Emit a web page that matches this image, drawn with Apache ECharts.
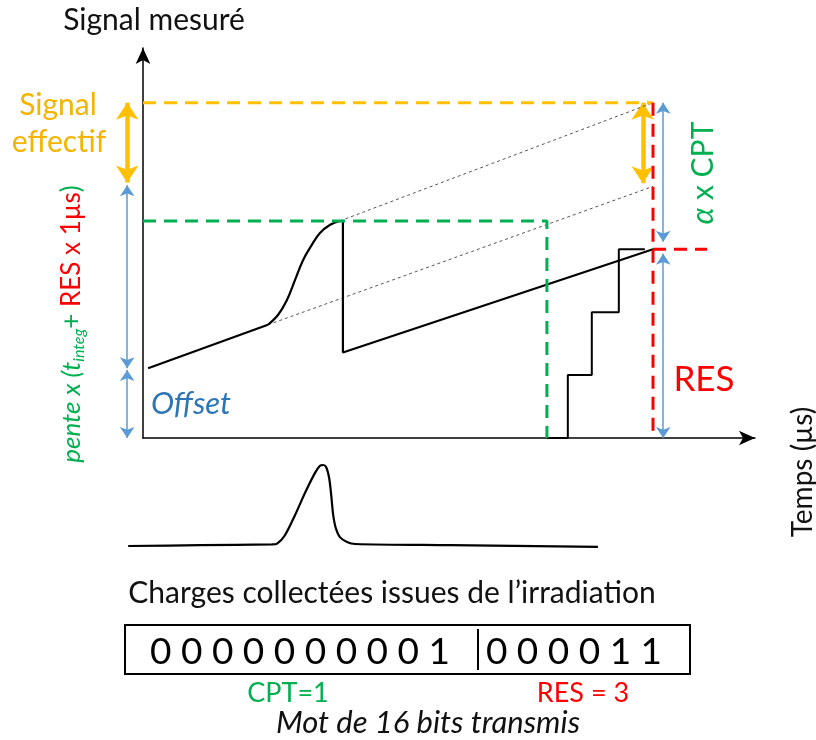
<!DOCTYPE html>
<html><head><meta charset="utf-8">
<script src="https://cdn.jsdelivr.net/npm/echarts@6/dist/echarts.min.js"></script>
<style>html,body{margin:0;padding:0;background:#fff}#c{width:816px;height:740px}</style>
</head><body><div id="c"></div>
<script>
// ---- Signal levels (1 unit = 1 RES step) ----
const levelEffectif = 5.33;
const levelCPT = 3.45;
const levelRES = 3;
const levelOffset = 1.1;
const levelPenteTop = 4.02;
const levelEffBottom = 4.06;
// ---- Times (µs) ----
const tStop = 7.92;
const tEnd = 10;
const tResLineEnd = 11.06;
const tLeftArrows = -0.31;
const tOrangeRight = 9.8;
const tBlueRight = 10.2;

// measured signal
const ramp1 = [[0.1, 1.11], [2.45, 1.80]];
const rise = [[2.45, 1.80], [2.65, 1.96], [2.82, 2.19], [2.98, 2.51], [3.14, 2.83], [3.31, 3.07], [3.47, 3.26], [3.67, 3.39], [3.86, 3.45]];
const ramp2 = [[3.86, 3.45], [3.92, 3.45], [3.92, 1.36], [10, 3.0]];
// RES counter staircase
const resSteps = [[7.92, 0], [8.33, 1], [8.8, 2], [9.33, 3], [9.84, 3]];
// extrapolations
const extrapLow = [[2.45, 1.80], [10, 4.0]];
const extrapHigh = [[3.86, 3.45], [10, 5.33]];
// collected charge pulse
const pulseT = [-0.29, 1.12, 2.53, 2.63, 2.78, 2.98, 3.18, 3.37, 3.47, 3.53, 3.59, 3.65, 3.69, 3.73, 3.78, 3.86, 4.0, 4.16, 6.02, 8.92];
const pulseV = [0, 0.01, 0.02, 0.03, 0.13, 0.38, 0.66, 0.90, 0.99, 1.0, 0.975, 0.84, 0.63, 0.38, 0.22, 0.11, 0.05, 0.025, 0.01, -0.01];
// transmitted word
const cptBits = [0, 0, 0, 0, 0, 0, 0, 0, 0, 1];
const resBits = [0, 0, 0, 0, 1, 1];
const cptValue = 1;
const resValue = 3;

const GREEN = '#00B050', RED = '#FF0000', ORANGE = '#FFC000', ORANGE_TXT = '#F5B400', BLUE = '#5B9BD5', BLUE_TXT = '#2E75B6';
const FONT = 'Lato';

const blueArrows = [
  [[tLeftArrows, levelPenteTop], [tLeftArrows, levelOffset + 0.01]],
  [[tLeftArrows, levelOffset - 0.02], [tLeftArrows, 0]],
  [[tBlueRight, levelEffectif], [tBlueRight, levelRES + 0.12]],
  [[tBlueRight, levelRES - 0.07], [tBlueRight, 0]]
];
const orangeArrows = [
  [[tLeftArrows, levelEffectif], [tLeftArrows, levelEffBottom]],
  [[tOrangeRight, levelEffectif], [tOrangeRight, levelEffBottom - 0.01]]
];

function line(data, color, width, type, extra) {
  return Object.assign({
    type: 'line', data: data, symbol: 'none', clip: false, silent: true, animation: false,
    lineStyle: { color: color, width: width, type: type || 'solid' }
  }, extra || {});
}
function txt(text, x, y, size, color, opts) {
  opts = opts || {};
  return {
    type: 'text', x: x, y: y, rotation: opts.rot || 0, silent: true,
    style: Object.assign({
      text: text, fill: color, align: 'center', verticalAlign: 'middle',
      textAlign: 'center', textVerticalAlign: 'middle',
      fontFamily: FONT, fontSize: size, fontStyle: opts.italic ? 'italic' : 'normal'
    }, opts.style || {})
  };
}

const chart = echarts.init(document.getElementById('c'), null, { renderer: 'canvas' });
chart.setOption({
  animation: false,
  backgroundColor: '#fff',
  grid: [
    { left: 143, right: 61, top: 48, bottom: 302 },
    { left: 122.6, right: 61, top: 465, bottom: 194 }
  ],
  xAxis: [
    { gridIndex: 0, type: 'value', min: 0, max: 12,
      axisLine: { show: true, symbol: ['none', 'arrow'], symbolSize: [11, 16], lineStyle: { color: '#000', width: 1.5 } },
      axisTick: { show: false }, axisLabel: { show: false }, splitLine: { show: false } },
    { gridIndex: 1, type: 'value', min: -0.4, max: 12, show: false }
  ],
  yAxis: [
    { gridIndex: 0, type: 'value', min: 0, max: 6.2,
      axisLine: { show: true, symbol: ['none', 'arrow'], symbolSize: [11, 16], lineStyle: { color: '#000', width: 1.5 } },
      axisTick: { show: false }, axisLabel: { show: false }, splitLine: { show: false } },
    { gridIndex: 1, type: 'value', min: 0, max: 1, show: false }
  ],
  series: [
    line(extrapLow, '#555', 1, [3, 3]),
    line(extrapHigh, '#555', 1, [3, 3]),
    line(ramp1, '#000', 2.2),
    line(rise, '#000', 2.2, 'solid', { smooth: 0.4 }),
    line(ramp2, '#000', 2.2),
    line(resSteps, '#000', 2, 'solid', { step: 'end' }),
    line([[0, levelCPT], [tStop, levelCPT], [tStop, 0]], GREEN, 3, [13, 8]),
    line([[0, levelEffectif], [tEnd, levelEffectif]], ORANGE, 3, [13, 8]),
    line([[tEnd, levelEffectif], [tEnd, 0]], RED, 3, [13, 8]),
    line([[tEnd, levelRES], [tResLineEnd, levelRES]], RED, 3, [13, 8]),
    { type: 'lines', coordinateSystem: 'cartesian2d', xAxisIndex: 0, yAxisIndex: 0, clip: false, silent: true,
      symbol: ['arrow', 'arrow'], symbolSize: 11,
      lineStyle: { color: BLUE, width: 1.5, opacity: 1 },
      data: blueArrows.map(c => ({ coords: c })) },
    { type: 'lines', coordinateSystem: 'cartesian2d', xAxisIndex: 0, yAxisIndex: 0, clip: false, silent: true,
      symbol: ['arrow', 'arrow'], symbolSize: 17,
      lineStyle: { color: ORANGE, width: 4.5, opacity: 1 },
      data: orangeArrows.map(c => ({ coords: c })) },
    line(pulseT.map((t, i) => [t, pulseV[i]]), '#000', 2.2, 'solid', { xAxisIndex: 1, yAxisIndex: 1, smooth: 0.3 })
  ],
  graphic: [
    txt('Signal mesuré', 154, 20, 30, '#111'),
    txt('Signal', 58, 105, 30, ORANGE_TXT),
    txt('effectif', 59, 142, 30, ORANGE_TXT),
    {
      type: 'text', x: 72, y: 324, rotation: Math.PI / 2, silent: true,
      style: {
        text: '{gi|pente x (t}{sub|integ}{g|+ }{r|RES x 1µs}{g|)}',
        align: 'center', verticalAlign: 'middle', textAlign: 'center', textVerticalAlign: 'middle',
        fontFamily: FONT, fontSize: 26,
        rich: {
          gi: { fill: GREEN, color: GREEN, fontStyle: 'italic', fontSize: 26, fontFamily: FONT, lineHeight: 30 },
          sub: { fill: GREEN, color: GREEN, fontStyle: 'italic', fontSize: 16, fontFamily: FONT, lineHeight: 30, padding: [14, 0, 0, 0] },
          g: { fill: GREEN, color: GREEN, fontSize: 26, fontFamily: FONT, lineHeight: 30 },
          r: { fill: RED, color: RED, fontSize: 26, fontFamily: FONT, lineHeight: 30 }
        }
      }
    },
    txt('Offset', 191, 404, 31, BLUE_TXT, { italic: true }),
    {
      type: 'text', x: 703, y: 173, rotation: Math.PI / 2, silent: true,
      style: {
        text: '{a|α}{b| x CPT}',
        align: 'center', verticalAlign: 'middle', textAlign: 'center', textVerticalAlign: 'middle',
        fontFamily: FONT, fontSize: 30,
        rich: {
          a: { fill: GREEN, color: GREEN, fontStyle: 'italic', fontSize: 30, fontFamily: FONT },
          b: { fill: GREEN, color: GREEN, fontSize: 30, fontFamily: FONT }
        }
      }
    },
    txt('RES', 704, 380, 35, RED),
    txt('Temps (µs)', 803, 472, 28, '#111', { rot: Math.PI / 2 }),
    txt('Charges collectées issues de l’irradiation', 392, 593, 30, '#111'),
    { type: 'rect', shape: { x: 125, y: 625, width: 565, height: 49 }, silent: true,
      style: { fill: 'none', stroke: '#000', lineWidth: 2 } },
    { type: 'line', shape: { x1: 478, y1: 629, x2: 478, y2: 670 }, silent: true,
      style: { stroke: '#000', lineWidth: 2 } },
    txt(cptBits.join(' '), 300, 652, 37, '#000'),
    txt(resBits.join(' '), 574, 652, 37, '#000'),
    txt('CPT=' + cptValue, 288, 693, 27, GREEN),
    txt('RES = ' + resValue, 583, 693, 27, RED),
    txt('Mot de 16 bits transmis', 428, 723, 31, '#111', { italic: true })
  ]
});
</script></body></html>
